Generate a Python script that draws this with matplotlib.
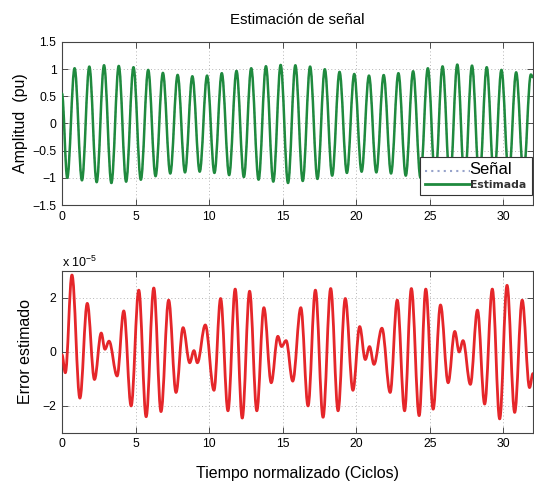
import numpy as np
import matplotlib
matplotlib.use('Agg')
import matplotlib.pyplot as plt
from matplotlib.path import Path
from matplotlib.patches import PathPatch
from matplotlib.lines import Line2D
from matplotlib.ticker import FixedLocator, FixedFormatter, ScalarFormatter

plt.rcParams['font.family'] = ['Liberation Sans', 'DejaVu Sans']
plt.rcParams['mathtext.fontset'] = 'custom'
plt.rcParams['mathtext.rm'] = 'Liberation Sans'
plt.rcParams['mathtext.it'] = 'Liberation Sans:italic'

# ---------------- data ----------------
# Top panel: signal extrema, one trough and one peak per cycle
trough_phase = 0.36
peak_phase = 0.86
signal_start = 0.55   # value at t = 0
signal_end = 0.85     # value at t = 32
signal_troughs = [-1.00, -1.046, -1.08, -1.095, -1.07, -1.035, -0.97, -0.92,
                  -0.90, -0.887, -0.91, -0.95, -0.985, -1.034, -1.07, -1.095,
                  -1.058, -1.02, -0.96, -0.91, -0.887, -0.90, -0.92, -0.96,
                  -1.00, -1.04, -1.08, -1.10, -1.08, -1.04, -0.99, -0.95]
signal_peaks = [1.015, 1.046, 1.07, 1.058, 1.034, 0.985, 0.93, 0.893,
                0.868, 0.88, 0.924, 0.966, 1.015, 1.052, 1.076, 1.07,
                1.046, 0.997, 0.948, 0.91, 0.88, 0.89, 0.924, 0.96,
                1.015, 1.05, 1.083, 1.064, 1.034, 0.985, 0.94, 0.90]

# Bottom panel: estimation error extrema (time in cycles, value in units of 1e-5)
error_t = [0.0, 0.23, 0.68, 1.22, 1.72, 2.21, 2.67, 2.92, 3.20, 3.75,
           4.20, 4.70, 5.22, 5.72, 6.24, 6.73, 7.25, 7.75, 8.23, 8.68,
           8.97, 9.20, 9.74, 10.33, 10.78, 11.28, 11.77, 12.25, 12.75, 13.24,
           13.72, 14.22, 14.67, 14.92, 15.23, 15.68, 16.23, 16.72, 17.22, 17.74,
           18.26, 18.76, 19.25, 19.77, 20.23, 20.61, 20.90, 21.20, 21.74, 22.30,
           22.78, 23.28, 23.74, 24.27, 24.72, 25.22, 25.72, 26.24, 26.69, 26.99,
           27.25, 27.75, 28.23, 28.72, 29.24, 29.74, 30.24, 30.76, 31.27, 31.77,
           32.0]
error_x1e5 = [-0.10, -0.77, 2.85, -1.71, 1.80, -1.02, 0.70, 0.10, 0.40, -0.89,
              1.52, -2.00, 2.29, -2.40, 2.37, -2.21, 1.92, -1.50, 0.90, -0.40,
              0.05, -0.40, 1.00, -1.42, 1.98, -2.18, 2.33, -2.45, 2.25, -2.18,
              1.64, -1.14, 0.58, 0.20, 0.42, -1.08, 1.64, -2.00, 2.29, -2.42,
              2.35, -2.18, 1.98, -1.42, 0.94, -0.28, 0.20, -0.46, 0.88, -1.50,
              1.92, -2.18, 2.35, -2.36, 2.33, -2.12, 1.74, -1.14, 0.76, 0.00,
              0.42, -1.20, 1.55, -1.93, 2.33, -2.48, 2.47, -2.24, 1.92, -1.32,
              -0.80]
ERR_SCALE = 1e-5

x_ticks = [0, 5, 10, 15, 20, 25, 30]
x_ticklabels = ['0', '5', '10', '15', '20', '25', '30']
y1_ticks = [-1.5, -1, -0.5, 0, 0.5, 1, 1.5]
y1_ticklabels = ['\u22121.5', '\u22121', '\u22120.5', '0', '0.5', '1', '1.5']
y2_ticks = [-2e-5, 0, 2e-5]

legend_labels = ['Señal', 'Estimada']
title = 'Estimación de señal'
ylabel1 = 'Amplitud  (pu)'
ylabel2 = 'Error estimado'
xlabel = 'Tiempo normalizado (Ciclos)'

GREEN = '#1f8a3e'
RED = '#e5262a'
DOT = '#97a3cb'

# ---------------- helpers ----------------
def smooth_path(ts, vs, k=0.364):
    """Cubic Bezier path through extrema with horizontal tangents."""
    verts = [(ts[0], vs[0])]
    codes = [Path.MOVETO]
    for i in range(1, len(ts)):
        h = ts[i] - ts[i - 1]
        verts += [(ts[i - 1] + k * h, vs[i - 1]),
                  (ts[i] - k * h, vs[i]),
                  (ts[i], vs[i])]
        codes += [Path.CURVE4] * 3
    return Path(verts, codes)


def style_axes(ax):
    ax.set_xlim(0, 32)
    ax.tick_params(direction='in', top=True, right=True, length=4,
                   width=0.6, color='#333333', labelsize=8.8, pad=4)
    for s in ax.spines.values():
        s.set_color('#444444')
        s.set_linewidth(0.8)
    ax.grid(True, color='#b5b5b5', linestyle=(0, (1, 2.5)), linewidth=0.7)
    ax.set_axisbelow(True)
    ax.xaxis.set_major_locator(FixedLocator(x_ticks))
    ax.xaxis.set_major_formatter(FixedFormatter(x_ticklabels))


class OffsetFmt(ScalarFormatter):
    def get_offset(self):
        return 'x 10$^{-5}$'


# ---------------- figure ----------------
fig = plt.figure(figsize=(5.34, 4.87), dpi=100)
ax1 = fig.add_axes([0.116, 0.579, 0.882, 0.335])
ax2 = fig.add_axes([0.116, 0.111, 0.882, 0.3326])

# top panel
sig_t = [0.0]
sig_v = [signal_start]
for k in range(len(signal_peaks)):
    sig_t += [k + trough_phase, k + peak_phase]
    sig_v += [signal_troughs[k], signal_peaks[k]]
sig_t.append(32.0)
sig_v.append(signal_end)

sig_path = smooth_path(sig_t, sig_v)
ax1.add_patch(PathPatch(sig_path, fill=False, edgecolor=DOT, lw=1.2,
                        linestyle=':', zorder=2))
ax1.add_patch(PathPatch(sig_path, fill=False, edgecolor=GREEN, lw=1.8,
                        zorder=3, capstyle='round', joinstyle='round'))
style_axes(ax1)
ax1.set_ylim(-1.5, 1.5)
ax1.yaxis.set_major_locator(FixedLocator(y1_ticks))
ax1.yaxis.set_major_formatter(FixedFormatter(y1_ticklabels))
ax1.set_title(title, fontsize=10.8, pad=13)
ax1.set_ylabel(ylabel1, fontsize=11.5, labelpad=3)

handles = [Line2D([], [], color=DOT, ls=(0, (1, 2)), lw=1.5),
           Line2D([], [], color=GREEN, lw=2.0)]
leg = ax1.legend(handles, legend_labels, loc='lower right',
                 bbox_to_anchor=(0.997, 0.06), borderaxespad=0.0,
                 fancybox=False, framealpha=1.0, edgecolor='#333333',
                 fontsize=8, handlelength=4.0, handletextpad=0.0,
                 borderpad=0.5, labelspacing=0.2)
leg.get_frame().set_linewidth(0.8)
leg.get_texts()[0].set_fontsize(12)
leg.get_texts()[1].set_family('DejaVu Sans')
leg.get_texts()[1].set_fontweight('bold')
leg.get_texts()[1].set_fontsize(7.8)
leg.get_texts()[1].set_color('#333333')
leg.set_zorder(10)

# bottom panel
err_v = [v * ERR_SCALE for v in error_x1e5]
ax2.add_patch(PathPatch(smooth_path(error_t, err_v), fill=False,
                        edgecolor=RED, lw=2.0, zorder=3,
                        capstyle='round', joinstyle='round'))
style_axes(ax2)
ax2.set_ylim(-3e-5, 3e-5)
ax2.yaxis.set_major_locator(FixedLocator(y2_ticks))
fmt = OffsetFmt(useMathText=False)
fmt.set_powerlimits((0, 0))
fmt.set_useOffset(False)
ax2.yaxis.set_major_formatter(fmt)
ax2.yaxis.get_offset_text().set_fontsize(9)
ax2.set_ylabel(ylabel2, fontsize=11.5, labelpad=7)
ax2.set_xlabel(xlabel, fontsize=11.5, labelpad=11)

fig.savefig('out.png', dpi=100)
